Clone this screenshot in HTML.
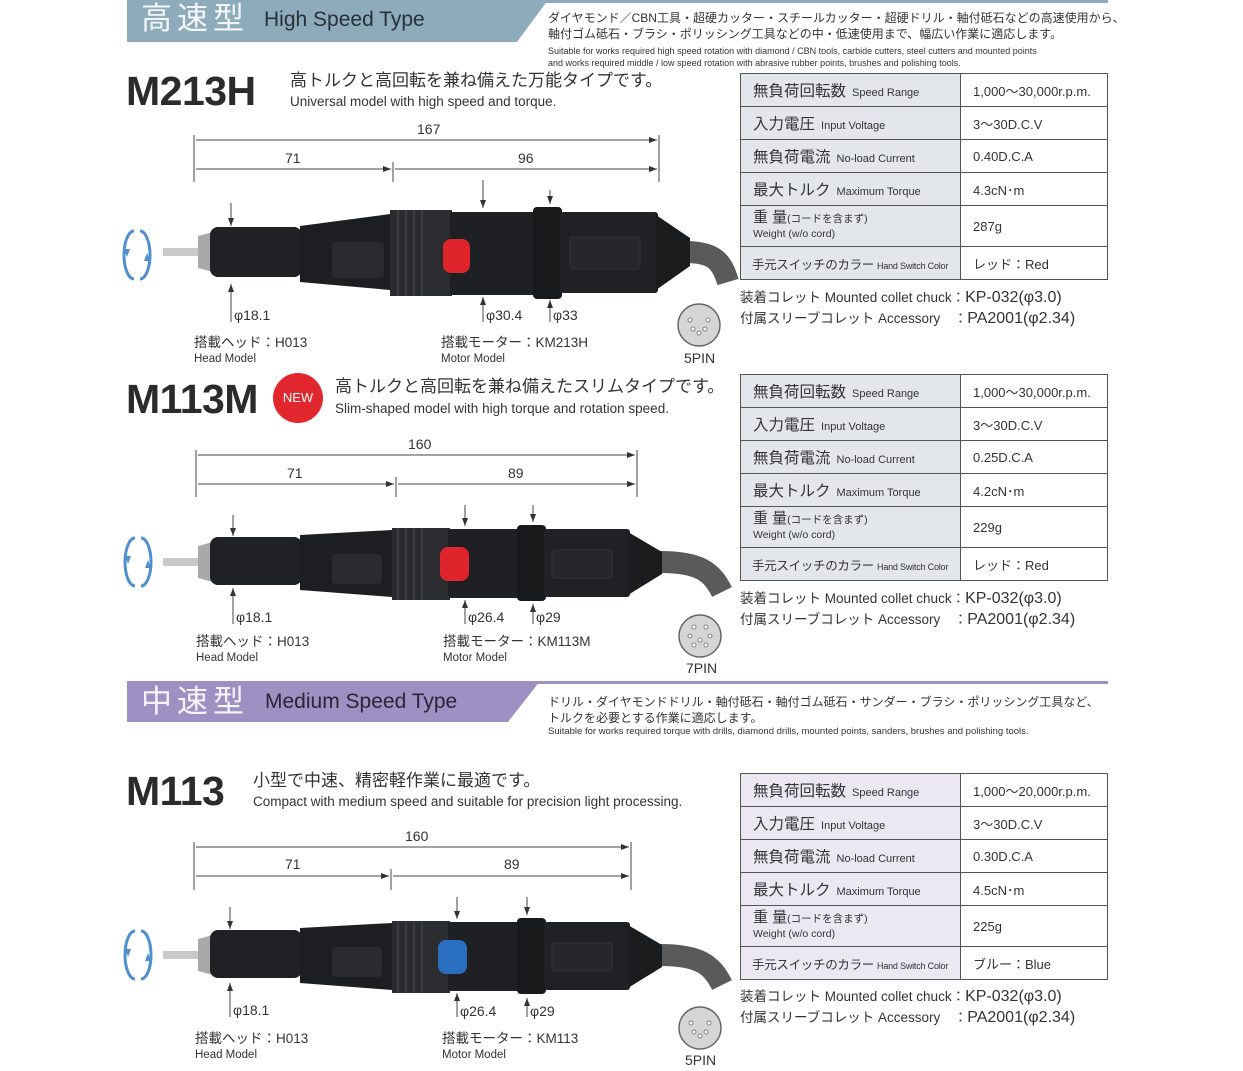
<!DOCTYPE html>
<html><head><meta charset="utf-8">
<style>
*{margin:0;padding:0;box-sizing:border-box}
body{width:1243px;height:1071px;background:#fff;position:relative;overflow:hidden;font-family:"Liberation Sans","Noto Sans CJK JP",sans-serif;color:#2a2a2a}
.a{position:absolute;white-space:nowrap;line-height:1.15}
.model{font-weight:bold;font-size:41px;color:#2b2b2b;letter-spacing:-0.5px}
.jp{font-size:17px;color:#333}
.en{font-size:13.5px;color:#333}
.small{font-size:12.5px;color:#333;line-height:1}
table{position:absolute;left:740px;width:367px;border-collapse:collapse;border:1.5px solid #333;table-layout:fixed}
td{border:1.3px solid #555;height:33px;font-size:13px;padding-left:12px;color:#333;white-space:nowrap;overflow:hidden}
td.l{background:#e3e7ec;font-size:15.5px}
td.l span{font-size:11px;margin-left:6px}
td.l.h{font-size:12.5px;padding-left:11px;letter-spacing:-0.3px}
td.l.h span{font-size:9px;margin-left:3px;letter-spacing:-0.2px}
td.w{height:41px;line-height:14px;font-size:15px}
td.w small{font-size:10.5px}
.m3 td.l{background:#ebe8f2}
.acc{font-size:13.5px;color:#333}
.acc b{font-weight:normal;font-size:16px}
.desc{font-size:12px;color:#333;line-height:16px}
.desce{font-size:9px;color:#333;line-height:12px}
</style></head><body>

<svg class="a" style="left:0;top:0" width="1243" height="1071">
 <polygon points="127,0 548,0 517,42 127,42" fill="#8eabbc"/>
 <rect x="127" y="0" width="981" height="3" fill="#8eabbc"/>
 <polygon points="127,681 540,681 508,722 127,722" fill="#9d90c3"/>
 <rect x="127" y="681" width="981" height="3" fill="#9d90c3"/>
</svg>
<div class="a" style="left:141px;top:1px;font-size:31px;line-height:36px;color:#f3f6f8;letter-spacing:5px">高速型</div>
<div class="a" style="left:264px;top:8px;font-size:21px;color:#25323a">High Speed Type</div>
<div class="a desc" style="left:548px;top:10px">ダイヤモンド／CBN工具・超硬カッター・スチールカッター・超硬ドリル・軸付砥石などの高速使用から、<br>軸付ゴム砥石・ブラシ・ポリッシング工具などの中・低速使用まで、幅広い作業に適応します。</div>
<div class="a desce" style="left:548px;top:45px">Suitable for works required high speed rotation with diamond / CBN tools, carbide cutters, steel cutters and mounted points<br>and works required middle / low speed rotation with abrasive rubber points, brushes and polishing tools.</div>

<div class="a" style="left:141px;top:684px;font-size:31px;line-height:36px;color:#f6f4fb;letter-spacing:5px">中速型</div>
<div class="a" style="left:265px;top:690px;font-size:21px;color:#2a2638">Medium Speed Type</div>
<div class="a desc" style="left:548px;top:694px">ドリル・ダイヤモンドドリル・軸付砥石・軸付ゴム砥石・サンダー・ブラシ・ポリッシング工具など、<br>トルクを必要とする作業に適応します。</div>
<div class="a desce" style="left:548px;top:726px;font-size:9.5px">Suitable for works required torque with drills, diamond drills, mounted points, sanders, brushes and polishing tools.</div>

<div class="a model" style="left:126px;top:68px">M213H</div>
<div class="a jp" style="left:290px;top:71px">高トルクと高回転を兼ね備えた万能タイプです。</div>
<div class="a en" style="left:290px;top:94px">Universal model with high speed and torque.</div>

<div class="a model" style="left:126px;top:376px">M113M</div>
<div class="a" style="left:273px;top:373px;width:50px;height:50px;border-radius:50%;background:#e1262d;color:#fff;font-size:13px;text-align:center;line-height:50px">NEW</div>
<div class="a jp" style="left:335px;top:377px">高トルクと高回転を兼ね備えたスリムタイプです。</div>
<div class="a en" style="left:335px;top:401px">Slim-shaped model with high torque and rotation speed.</div>

<div class="a model" style="left:126px;top:768px">M113</div>
<div class="a jp" style="left:253px;top:771px">小型で中速、精密軽作業に最適です。</div>
<div class="a en" style="left:253px;top:794px">Compact with medium speed and suitable for precision light processing.</div>

<svg class="a" style="left:0;top:0" width="1243" height="1071">
<defs>
 <g id="rot">
  <path d="M-3,-24 A10,24 0 0 0 -3,24" fill="none" stroke="#4f8fcf" stroke-width="3"/>
  <path d="M3,24 A10,24 0 0 0 3,-24" fill="none" stroke="#4f8fcf" stroke-width="3"/>
  <polygon points="-13,-6 -7,-6 -10,2" fill="#4f8fcf"/>
  <polygon points="13,6 7,6 10,-2" fill="#4f8fcf"/>
 </g>
 <g id="toolA">
  <path d="M685,0 C715,0 722,10 728,30" stroke="#5a5a5a" stroke-width="22" fill="none"/>
  <rect x="163" y="-4" width="38" height="8" fill="#c9c9c9"/>
  <path d="M198,-16 L213,-20 L213,20 L198,16 Z" fill="#a9a9a9"/>
  <rect x="210" y="-25" width="92" height="50" rx="8" fill="#202124"/>
  <path d="M300,-26 L390,-38 L390,38 L300,30 Z" fill="#1d1e21"/>
  <rect x="390" y="-42" width="62" height="86" fill="#2b2c2f"/>
  <g stroke="#444" stroke-width="1.5">
   <line x1="398" y1="-42" x2="398" y2="44"/><line x1="406" y1="-42" x2="406" y2="44"/><line x1="414" y1="-42" x2="414" y2="44"/><line x1="422" y1="-42" x2="422" y2="44"/>
  </g>
  <rect x="450" y="-40" width="86" height="83" rx="3" fill="#1f2023"/>
  <rect x="533" y="-45" width="29" height="92" rx="4" fill="#18191b"/>
  <rect x="560" y="-40" width="98" height="81" rx="3" fill="#202124"/>
  <polygon points="656,-37 690,-14 690,14 656,38" fill="#1b1c1e"/>
  <rect x="332" y="-10" width="52" height="36" rx="4" fill="#2a2b2e"/>
  <rect x="570" y="-15" width="70" height="32" rx="3" fill="#26272a" stroke="#333"/>
 </g>
 <g id="toolB">
  <path d="M660,0 C700,0 712,10 722,30" stroke="#5a5a5a" stroke-width="22" fill="none"/>
  <rect x="163" y="-4" width="38" height="8" fill="#c9c9c9"/>
  <path d="M198,-16 L213,-20 L213,20 L198,16 Z" fill="#a9a9a9"/>
  <rect x="210" y="-25" width="92" height="48" rx="8" fill="#202124"/>
  <path d="M300,-27 L392,-32 L392,35 L300,28 Z" fill="#1d1e21"/>
  <rect x="392" y="-34" width="58" height="72" fill="#2b2c2f"/>
  <g stroke="#444" stroke-width="1.5">
   <line x1="398" y1="-34" x2="398" y2="38"/><line x1="406" y1="-34" x2="406" y2="38"/><line x1="414" y1="-34" x2="414" y2="38"/><line x1="422" y1="-34" x2="422" y2="38"/>
  </g>
  <rect x="448" y="-33" width="72" height="69" rx="3" fill="#1f2023"/>
  <rect x="517" y="-37" width="29" height="76" rx="4" fill="#18191b"/>
  <rect x="544" y="-33" width="86" height="68" rx="3" fill="#202124"/>
  <polygon points="628,-30 662,-10 662,12 628,33" fill="#1b1c1e"/>
  <rect x="332" y="-8" width="50" height="30" rx="4" fill="#2a2b2e"/>
  <rect x="552" y="-12" width="60" height="28" rx="3" fill="#26272a" stroke="#333"/>
 </g>
 <marker id="ar" markerWidth="8" markerHeight="6" refX="8" refY="3" orient="auto"><path d="M0,0 L8,3 L0,6 Z" fill="#333"/></marker>
</defs>
<g stroke="#444" stroke-width="1" fill="none">
 <line x1="194" y1="135" x2="194" y2="182"/><line x1="393" y1="162" x2="393" y2="182"/><line x1="659" y1="135" x2="659" y2="182"/>
 <line x1="196" y1="140" x2="657" y2="140" marker-end="url(#ar)"/>
 <line x1="196" y1="169" x2="391" y2="169" marker-end="url(#ar)"/><line x1="395" y1="169" x2="657" y2="169" marker-end="url(#ar)"/>
 <line x1="231" y1="203" x2="231" y2="226" marker-end="url(#ar)"/><line x1="231" y1="322" x2="231" y2="284" marker-end="url(#ar)"/>
 <line x1="483" y1="180" x2="483" y2="208" marker-end="url(#ar)"/><line x1="483" y1="322" x2="483" y2="297" marker-end="url(#ar)"/>
 <line x1="550" y1="190" x2="550" y2="204" marker-end="url(#ar)"/><line x1="550" y1="322" x2="550" y2="300" marker-end="url(#ar)"/>
 <line x1="196" y1="450" x2="196" y2="497"/><line x1="396" y1="477" x2="396" y2="497"/><line x1="637" y1="450" x2="637" y2="497"/>
 <line x1="198" y1="455" x2="635" y2="455" marker-end="url(#ar)"/>
 <line x1="198" y1="484" x2="394" y2="484" marker-end="url(#ar)"/><line x1="398" y1="484" x2="635" y2="484" marker-end="url(#ar)"/>
 <line x1="233" y1="515" x2="233" y2="536" marker-end="url(#ar)"/><line x1="233" y1="624" x2="233" y2="588" marker-end="url(#ar)"/>
 <line x1="465" y1="505" x2="465" y2="526" marker-end="url(#ar)"/><line x1="465" y1="624" x2="465" y2="600" marker-end="url(#ar)"/>
 <line x1="533" y1="505" x2="533" y2="522" marker-end="url(#ar)"/><line x1="533" y1="624" x2="533" y2="604" marker-end="url(#ar)"/>
 <line x1="194" y1="842" x2="194" y2="890"/><line x1="391" y1="869" x2="391" y2="890"/><line x1="631" y1="842" x2="631" y2="890"/>
 <line x1="196" y1="847" x2="629" y2="847" marker-end="url(#ar)"/>
 <line x1="196" y1="876" x2="389" y2="876" marker-end="url(#ar)"/><line x1="393" y1="876" x2="629" y2="876" marker-end="url(#ar)"/>
 <line x1="230" y1="907" x2="230" y2="929" marker-end="url(#ar)"/><line x1="230" y1="1017" x2="230" y2="983" marker-end="url(#ar)"/>
 <line x1="457" y1="897" x2="457" y2="919" marker-end="url(#ar)"/><line x1="457" y1="1017" x2="457" y2="993" marker-end="url(#ar)"/>
 <line x1="527" y1="897" x2="527" y2="915" marker-end="url(#ar)"/><line x1="527" y1="1017" x2="527" y2="998" marker-end="url(#ar)"/>
</g>
<use href="#toolA" transform="translate(0,252)"/>
<rect x="443" y="239" width="27" height="34" rx="8" fill="#e0242b"/>
<use href="#toolB" transform="translate(0,562)"/>
<rect x="440" y="547" width="29" height="34" rx="8" fill="#e0242b"/>
<use href="#toolB" transform="translate(0,955)"/>
<rect x="438" y="940" width="29" height="34" rx="8" fill="#2a6fbf"/>
<use href="#rot" transform="translate(137,255)"/>
<use href="#rot" transform="translate(138,562)"/>
<use href="#rot" transform="translate(138,955)"/>
<g fill="#d5d5d5" stroke="#666" stroke-width="1.5">
 <circle cx="699" cy="325" r="21"/><circle cx="700" cy="636" r="21"/><circle cx="700" cy="1028" r="21"/>
</g>
<g fill="#fff" stroke="#666" stroke-width="0.8">
 <circle cx="690" cy="320" r="2"/><circle cx="708" cy="320" r="2"/><circle cx="693" cy="329" r="2"/><circle cx="705" cy="329" r="2"/><circle cx="699" cy="333" r="2"/>
 <circle cx="694" cy="627" r="2"/><circle cx="706" cy="627" r="2"/><circle cx="690" cy="636" r="2"/><circle cx="710" cy="636" r="2"/><circle cx="694" cy="645" r="2"/><circle cx="706" cy="645" r="2"/><circle cx="700" cy="640" r="2"/>
 <circle cx="691" cy="1023" r="2"/><circle cx="709" cy="1023" r="2"/><circle cx="694" cy="1032" r="2"/><circle cx="706" cy="1032" r="2"/><circle cx="700" cy="1036" r="2"/>
</g>
<g font-family="Liberation Sans, sans-serif" font-size="14" fill="#333">
 <text x="417" y="134">167</text><text x="285" y="163">71</text><text x="518" y="163">96</text>
 <text x="408" y="449">160</text><text x="287" y="478">71</text><text x="508" y="478">89</text>
 <text x="405" y="841">160</text><text x="285" y="869">71</text><text x="504" y="869">89</text>
 <text x="234" y="320">φ18.1</text><text x="486" y="320">φ30.4</text><text x="553" y="320">φ33</text>
 <text x="236" y="622">φ18.1</text><text x="468" y="622">φ26.4</text><text x="536" y="622">φ29</text>
 <text x="233" y="1015">φ18.1</text><text x="460" y="1016">φ26.4</text><text x="530" y="1016">φ29</text>
 <text x="684" y="363">5PIN</text><text x="686" y="673">7PIN</text><text x="685" y="1065">5PIN</text>
</g>
</svg>

<div class="a small" style="left:194px;top:336px;font-size:13.5px">搭載ヘッド：H013</div>
<div class="a small" style="left:194px;top:354px;font-size:11.5px">Head Model</div>
<div class="a small" style="left:441px;top:336px;font-size:13.5px">搭載モーター：KM213H</div>
<div class="a small" style="left:441px;top:354px;font-size:11.5px">Motor Model</div>

<div class="a small" style="left:196px;top:635px;font-size:13.5px">搭載ヘッド：H013</div>
<div class="a small" style="left:196px;top:653px;font-size:11.5px">Head Model</div>
<div class="a small" style="left:443px;top:635px;font-size:13.5px">搭載モーター：KM113M</div>
<div class="a small" style="left:443px;top:653px;font-size:11.5px">Motor Model</div>

<div class="a small" style="left:195px;top:1032px;font-size:13.5px">搭載ヘッド：H013</div>
<div class="a small" style="left:195px;top:1050px;font-size:11.5px">Head Model</div>
<div class="a small" style="left:442px;top:1032px;font-size:13.5px">搭載モーター：KM113</div>
<div class="a small" style="left:442px;top:1050px;font-size:11.5px">Motor Model</div>

<table style="top:73px">
<colgroup><col style="width:220px"><col style="width:147px"></colgroup>
<tr><td class="l">無負荷回転数<span>Speed Range</span></td><td>1,000～30,000r.p.m.</td></tr>
<tr><td class="l">入力電圧<span>Input Voltage</span></td><td>3～30D.C.V</td></tr>
<tr><td class="l">無負荷電流<span>No-load Current</span></td><td>0.40D.C.A</td></tr>
<tr><td class="l">最大トルク<span>Maximum Torque</span></td><td>4.3cN･m</td></tr>
<tr><td class="l w">重 量<small>(コードを含まず)</small><br><small>Weight (w/o cord)</small></td><td>287g</td></tr>
<tr><td class="l h">手元スイッチのカラー<span>Hand Switch Color</span></td><td>レッド：Red</td></tr>
</table>
<div class="a acc" style="left:740px;top:289px">装着コレット Mounted collet chuck：<b>KP-032(φ3.0)</b></div>
<div class="a acc" style="left:740px;top:310px">付属スリーブコレット Accessory　：<b>PA2001(φ2.34)</b></div>

<table style="top:374px">
<colgroup><col style="width:220px"><col style="width:147px"></colgroup>
<tr><td class="l">無負荷回転数<span>Speed Range</span></td><td>1,000～30,000r.p.m.</td></tr>
<tr><td class="l">入力電圧<span>Input Voltage</span></td><td>3～30D.C.V</td></tr>
<tr><td class="l">無負荷電流<span>No-load Current</span></td><td>0.25D.C.A</td></tr>
<tr><td class="l">最大トルク<span>Maximum Torque</span></td><td>4.2cN･m</td></tr>
<tr><td class="l w">重 量<small>(コードを含まず)</small><br><small>Weight (w/o cord)</small></td><td>229g</td></tr>
<tr><td class="l h">手元スイッチのカラー<span>Hand Switch Color</span></td><td>レッド：Red</td></tr>
</table>
<div class="a acc" style="left:740px;top:590px">装着コレット Mounted collet chuck：<b>KP-032(φ3.0)</b></div>
<div class="a acc" style="left:740px;top:611px">付属スリーブコレット Accessory　：<b>PA2001(φ2.34)</b></div>

<table class="m3" style="top:773px">
<colgroup><col style="width:220px"><col style="width:147px"></colgroup>
<tr><td class="l">無負荷回転数<span>Speed Range</span></td><td>1,000～20,000r.p.m.</td></tr>
<tr><td class="l">入力電圧<span>Input Voltage</span></td><td>3～30D.C.V</td></tr>
<tr><td class="l">無負荷電流<span>No-load Current</span></td><td>0.30D.C.A</td></tr>
<tr><td class="l">最大トルク<span>Maximum Torque</span></td><td>4.5cN･m</td></tr>
<tr><td class="l w">重 量<small>(コードを含まず)</small><br><small>Weight (w/o cord)</small></td><td>225g</td></tr>
<tr><td class="l h">手元スイッチのカラー<span>Hand Switch Color</span></td><td>ブルー：Blue</td></tr>
</table>
<div class="a acc" style="left:740px;top:988px">装着コレット Mounted collet chuck：<b>KP-032(φ3.0)</b></div>
<div class="a acc" style="left:740px;top:1009px">付属スリーブコレット Accessory　：<b>PA2001(φ2.34)</b></div>
</body></html>
